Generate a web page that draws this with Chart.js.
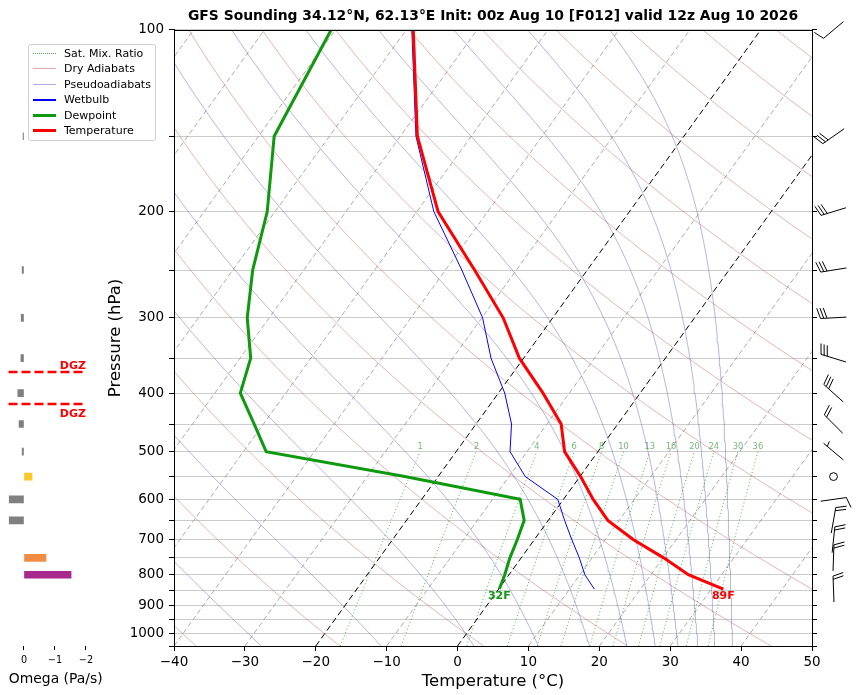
<!DOCTYPE html>
<html>
<head>
<meta charset="utf-8">
<title>GFS Sounding</title>
<script src="https://cdn.jsdelivr.net/npm/chart.js@4.4.1/dist/chart.umd.min.js"></script>
<style>
  html, body { margin:0; padding:0; background:#fff; }
  #wrap { position:relative; width:857px; height:695px; overflow:hidden; font-family:"DejaVu Sans", sans-serif; }
  canvas { position:absolute; left:0; top:0; }
  #legend { position:absolute; left:28px; top:44px; width:126px; height:95px; border:1px solid #d0d0d0; border-radius:3px; background:rgba(255,255,255,0.9); font-size:11px; color:#000; }
  .sw { position:absolute; left:4px; width:23px; }
  .lab { position:absolute; left:35px; white-space:nowrap; line-height:13px; height:13px; }
</style>
</head>
<body>
<div id="wrap">
  <canvas id="main" width="857" height="695"></canvas>
  <canvas id="omega" width="112" height="695"></canvas>
  <div id="legend"></div>
</div>
<script>
// ---------------- data ----------------
const profileP     = [100, 150, 200, 250, 300, 350, 400, 450, 500, 550, 600, 650, 700, 750, 800, 845];
const temperatureC = [-69.0, -57.6, -47.0, -35.9, -27.0, -20.6, -13.7, -8.0, -4.7, 0.1, 4.2, 8.4, 14.0, 20.1, 25.3, 31.7];
const dewpointC    = [-80.6, -77.8, -71.1, -67.2, -63.1, -58.5, -56.4, -51.3, -46.8, -24.7, -6.1, -3.4, -2.4, -1.6, -0.6, 0.1];
const wetbulbC     = [-69.2, -57.8, -47.6, -37.7, -29.9, -24.6, -19.1, -15.0, -12.4, -7.7, -0.8, 2.3, 5.3, 8.2, 10.7, 13.5];

const omegaP   = [150, 250, 300, 350, 400, 450, 500, 550, 600, 650, 750, 800];
const omegaPaS = [0.03, 0.06, 0.09, 0.10, 0.20, 0.16, 0.06, -0.26, 0.48, 0.48, -0.71, -1.52];
const dgzP     = [369, 417];

const windP      = [100, 150, 200, 250, 300, 350, 400, 450, 500, 550, 600, 650, 700, 750, 845];
const windDirDeg = [230, 235, 253, 261, 267, 287, 312, 315, 310, 0, 82, 10, 6, 2, 358];
const windKt     = [10, 30, 30, 30, 30, 30, 30, 20, 5, 0, 10, 20, 20, 20, 20];

const tempTicks     = [-40, -30, -20, -10, 0, 10, 20, 30, 40, 50];
const pressureTicks = [100, 150, 200, 250, 300, 350, 400, 450, 500, 550, 600, 650, 700, 750, 800, 850, 900, 950, 1000, 1050];
const omegaTicks    = [0, -1, -2];

const isothermsC         = [-100, -90, -80, -70, -60, -50, -40, -30, -20, -10, 0, 10, 20, 30, 40, 50];
const highlightIsoC      = [-20, 0];
const dryAdiabatsK       = [233, 253, 273, 293, 313, 333, 353, 373, 393, 413, 433, 453, 473, 493, 513, 533];
const pseudoAdiabatBaseC = [-27.7, -10.8, 2.3, 11.4, 18.6, 23.9, 27.9, 31.1, 33.9, 36.3, 38.8];
const mixingRatiosGkg    = [1, 2, 4, 6, 8, 10, 13, 16, 20, 24, 30, 36];

const TITLE = 'GFS Sounding 34.12°N, 62.13°E Init: 00z Aug 10 [F012] valid 12z Aug 10 2026';

// ---------------- skew-T helpers ----------------
const P_BOT = 1050, P_TOP = 100, SKEW = 61.45;
const KAPPA = 0.28571, EPS = 0.621957, RD = 287.04749, CP = 1004.666, LV = 2.50084e6;
function skewX(tC, p) { return tC + SKEW * Math.log10(P_BOT / p); }
function satVap(TK) { return 6.112 * Math.exp(17.67 * (TK - 273.15) / (TK - 29.65)); }
function moistSlope(p, TK) {
  const es = satVap(TK);
  const rs = EPS * es / Math.max(p - es, 1e-3);
  return (RD * TK + LV * rs) / (p * (CP + LV * LV * rs * EPS / (RD * TK * TK)));
}
function mixingDewpoint(wGkg, p) {
  const w = wGkg / 1000, e = p * w / (EPS + w), l = Math.log(e / 6.112);
  return 243.5 * l / (17.67 - l);
}
const curveP = [];
for (let p = P_BOT; p >= P_TOP; p -= 10) curveP.push(p);

function profile(vals) { return profileP.map((p, i) => ({x: skewX(vals[i], p), y: p})); }
function lineDs(data, color, width, dash) {
  return {data, borderColor: color, borderWidth: width, borderDash: dash || [], showLine: true,
          pointRadius: 0, pointHoverRadius: 0, tension: 0, fill: false};
}
function pseudoCurve(baseC) {
  let p = P_BOT, T = baseC + 273.15;
  const pts = [{x: skewX(baseC, p), y: p}];
  const h = -2; let step = 0;
  while (p > P_TOP + 1e-9) {
    const k1 = moistSlope(p, T), k2 = moistSlope(p + h / 2, T + h / 2 * k1);
    const k3 = moistSlope(p + h / 2, T + h / 2 * k2), k4 = moistSlope(p + h, T + h * k3);
    T += h / 6 * (k1 + 2 * k2 + 2 * k3 + k4); p += h; step++;
    if (step % 5 === 0) pts.push({x: skewX(T - 273.15, p), y: p});
  }
  return pts;
}

// ---------------- datasets (first = drawn on top) ----------------
const datasets = [];
datasets.push(lineDs(profile(temperatureC), '#ff0000', 3));
datasets.push(lineDs(profile(dewpointC), '#0f990f', 3));
datasets.push(lineDs(profile(wetbulbC), '#0000ff', 1));
highlightIsoC.forEach(t => datasets.push(lineDs([{x: t, y: P_BOT}, {x: skewX(t, P_TOP), y: P_TOP}], '#000000', 1, [6, 3.5])));
mixingRatiosGkg.forEach(w => datasets.push(lineDs(curveP.filter(p => p >= 500).map(p => ({x: skewX(mixingDewpoint(w, p), p), y: p})), 'rgba(0,128,0,0.65)', 1, [1, 2.5])));
pseudoAdiabatBaseC.forEach(t => datasets.push(lineDs(pseudoCurve(t), 'rgba(70,70,200,0.5)', 0.8)));
dryAdiabatsK.forEach(th => datasets.push(lineDs(curveP.map(p => ({x: skewX(th * Math.pow(p / 1000, KAPPA) - 273.15, p), y: p})), 'rgba(200,70,70,0.5)', 0.8)));
isothermsC.filter(t => !highlightIsoC.includes(t)).forEach(t => datasets.push(lineDs([{x: t, y: P_BOT}, {x: skewX(t, P_TOP), y: P_TOP}], 'rgba(150,150,150,0.8)', 1, [5, 3])));

Chart.defaults.font.family = '"DejaVu Sans", sans-serif';
Chart.defaults.color = '#000';

const minusFmt = v => (v < 0 ? '\u2212' + Math.abs(v) : String(v));

function drawBarb(ctx, cx, cy, dirDeg, kt, L) {
  ctx.beginPath();
  if (kt < 2.5) { ctx.arc(cx, cy, 0.15 * L, 0, Math.PI * 2); ctx.stroke(); return; }
  const r = dirDeg * Math.PI / 180;
  const dx = Math.sin(r), dy = -Math.cos(r);
  const px = -dy, py = dx;
  const sx = cx - dx * L / 2, sy = cy - dy * L / 2;
  const at = o => [sx + dx * o, sy + dy * o];
  ctx.moveTo(sx, sy);
  const e = at(L); ctx.lineTo(e[0], e[1]);
  let rem = Math.round(kt / 5) * 5;
  const nflag = Math.floor(rem / 50); rem -= nflag * 50;
  const nbarb = Math.floor(rem / 10); const half = rem % 10 >= 5;
  const sp = 0.125 * L, fh = 0.4 * L, fw = 0.25 * L;
  let o = L;
  for (let i = 0; i < nflag; i++) {
    const a = at(o), b = at(o - fw / 2), c = at(o - fw);
    ctx.moveTo(a[0], a[1]); ctx.lineTo(b[0] + px * fh, b[1] + py * fh); ctx.lineTo(c[0], c[1]);
    o -= fw + sp;
  }
  for (let i = 0; i < nbarb; i++) {
    const a = at(o), b = at(o + fw / 2);
    ctx.moveTo(a[0], a[1]); ctx.lineTo(b[0] + px * fh, b[1] + py * fh);
    o -= sp;
  }
  if (half) {
    if (o === L) o -= 1.5 * sp;
    const a = at(o), b = at(o + fw / 4);
    ctx.moveTo(a[0], a[1]); ctx.lineTo(b[0] + px * fh / 2, b[1] + py * fh / 2);
  }
  ctx.stroke();
}

const skewDecor = {
  id: 'skewDecor',
  afterDatasetsDraw(chart) {
    const {ctx, chartArea: a, scales: {x, y}} = chart;
    ctx.save();
    ctx.font = '8.3px "DejaVu Sans"'; ctx.fillStyle = 'rgba(0,128,0,0.55)';
    ctx.textAlign = 'center'; ctx.textBaseline = 'middle';
    mixingRatiosGkg.forEach(w => {
      ctx.fillText(String(w), x.getPixelForValue(skewX(mixingDewpoint(w, 500), 500)), y.getPixelForValue(500) - 4.5);
    });
    const n = profileP.length - 1, ps = profileP[n];
    ctx.font = 'bold 11px "DejaVu Sans"';
    ctx.fillStyle = '#ff0000';
    ctx.fillText(Math.round(temperatureC[n] * 9 / 5 + 32) + 'F', x.getPixelForValue(skewX(temperatureC[n], ps)), y.getPixelForValue(ps) + 7.5);
    ctx.fillStyle = '#0f990f';
    ctx.fillText(Math.round(dewpointC[n] * 9 / 5 + 32) + 'F', x.getPixelForValue(skewX(dewpointC[n], ps)), y.getPixelForValue(ps) + 7.5);
    ctx.strokeStyle = '#000'; ctx.lineWidth = 1;
    ctx.strokeRect(Math.round(a.left) + 0.5, Math.round(a.top) + 0.5, Math.round(a.right) - Math.round(a.left), Math.round(a.bottom) - Math.round(a.top));
    ctx.restore();
  },
  afterDraw(chart) {
    const {ctx, chartArea: a, scales: {y}} = chart;
    ctx.save();
    ctx.strokeStyle = '#000'; ctx.lineWidth = 1; ctx.lineJoin = 'miter';
    windP.forEach((p, i) => drawBarb(ctx, a.right + 21.5, y.getPixelForValue(p), windDirDeg[i], windKt[i], 26));
    ctx.restore();
  }
};

const pTickSetter = s => { s.ticks = pressureTicks.map(v => ({value: v})); };

new Chart(document.getElementById('main'), {
  type: 'scatter',
  data: {datasets},
  options: {
    responsive: false, animation: false, events: [],
    layout: {padding: {left: 0, right: 0, top: 0, bottom: 0}},
    plugins: {
      legend: {display: false}, tooltip: {enabled: false},
      title: {display: true, text: TITLE, fullSize: false, color: '#000',
              font: {size: 13.9, weight: 'bold'}, padding: {top: 7.6, bottom: 5.7}}
    },
    scales: {
      x: {
        type: 'linear', position: 'bottom', min: -40, max: 50, bounds: 'data',
        afterBuildTicks: s => { s.ticks = tempTicks.map(v => ({value: v})); },
        ticks: {font: {size: 13.5}, color: '#000', padding: 3, maxRotation: 0, autoSkip: false, callback: v => minusFmt(v)},
        grid: {drawOnChartArea: false, drawTicks: true, tickLength: 5, tickColor: '#000'},
        border: {display: true, color: '#000', width: 1},
        title: {display: true, text: 'Temperature (°C)', color: '#000', font: {size: 16.5}, padding: {top: 0, bottom: 3}},
        afterFit: s => { s.height = 49; }
      },
      y: {
        type: 'logarithmic', position: 'left', min: P_TOP, max: P_BOT, reverse: true, bounds: 'data',
        afterBuildTicks: pTickSetter,
        ticks: {font: {size: 13.5}, color: '#000', padding: 5, autoSkip: false,
                callback: v => (v % 100 === 0 && v <= 1000 ? String(v) : '')},
        grid: {color: '#cccccc', lineWidth: 1, tickColor: '#000', tickLength: 5},
        border: {display: true, color: '#000', width: 1},
        title: {display: true, text: 'Pressure (hPa)', color: '#000', font: {size: 16.5}, padding: {top: 105.6, bottom: 0}},
        afterFit: s => { s.width = 174; }
      },
      y2: {
        type: 'logarithmic', position: 'right', min: P_TOP, max: P_BOT, reverse: true, bounds: 'data',
        afterBuildTicks: pTickSetter,
        ticks: {autoSkip: false, callback: () => ''},
        grid: {drawOnChartArea: false, tickColor: '#000', tickLength: 5},
        border: {display: true, color: '#000', width: 1},
        afterFit: s => { s.width = 45; }
      }
    }
  },
  plugins: [skewDecor]
});

// ---------------- omega panel ----------------
function omegaColour(v) {
  if (v > -0.1) return '#808080';
  if (v > -0.5) return '#f8c82c';
  if (v > -1.0) return '#f28c44';
  return '#a8298e';
}
const dgzDecor = {
  id: 'dgzDecor',
  afterDatasetsDraw(chart) {
    const {ctx, scales: {x, y}} = chart;
    ctx.save();
    const x0 = x.getPixelForValue(0.5), x1 = x.getPixelForValue(-2);
    ctx.strokeStyle = '#ff0000'; ctx.lineWidth = 2.5; ctx.setLineDash([9, 4]);
    dgzP.forEach(p => { const yy = y.getPixelForValue(p); ctx.beginPath(); ctx.moveTo(x0, yy); ctx.lineTo(x1, yy); ctx.stroke(); });
    ctx.setLineDash([]);
    ctx.fillStyle = '#ff0000'; ctx.font = 'bold 11px "DejaVu Sans"'; ctx.textAlign = 'right'; ctx.textBaseline = 'alphabetic';
    const yTop = y.getPixelForValue(Math.min(...dgzP)), yBot = y.getPixelForValue(Math.max(...dgzP));
    ctx.fillText('DGZ', x1, yTop - 3);
    ctx.fillText('DGZ', x1, yBot + 13);
    ctx.restore();
  }
};
new Chart(document.getElementById('omega'), {
  type: 'bar',
  data: {datasets: [{
    data: omegaP.map((p, i) => ({x: omegaPaS[i], y: p})),
    backgroundColor: omegaPaS.map(omegaColour), borderWidth: 0, barThickness: 7
  }]},
  options: {
    indexAxis: 'y', responsive: false, animation: false, events: [],
    layout: {padding: {left: 8.5, right: 9, top: 30, bottom: 0}},
    plugins: {legend: {display: false}, tooltip: {enabled: false}},
    scales: {
      x: {
        type: 'linear', min: -2.55, max: 0.5, reverse: true, bounds: 'data',
        afterBuildTicks: s => { s.ticks = omegaTicks.map(v => ({value: v})); },
        ticks: {font: {size: 9.7}, color: '#000', padding: 4.5, autoSkip: false, maxRotation: 0, callback: v => minusFmt(v)},
        grid: {drawOnChartArea: false, drawTicks: true, tickLength: 4, tickColor: '#000'},
        border: {display: false},
        title: {display: true, text: 'Omega (Pa/s)', color: '#000', font: {size: 13.9}, padding: {top: 0, bottom: 7.6}},
        afterFit: s => { s.height = 49; }
      },
      y: {type: 'logarithmic', min: P_TOP, max: P_BOT, reverse: true, display: false}
    }
  },
  plugins: [dgzDecor]
});

// ---------------- legend ----------------
const legendItems = [
  {label: 'Sat. Mix. Ratio', w: 1, dotted: true, color: 'rgba(0,128,0,0.65)'},
  {label: 'Dry Adiabats', w: 1, color: 'rgba(200,70,70,0.45)'},
  {label: 'Pseudoadiabats', w: 1, color: 'rgba(70,70,200,0.45)'},
  {label: 'Wetbulb', w: 1.5, color: '#0000ff'},
  {label: 'Dewpoint', w: 3, color: '#0f990f'},
  {label: 'Temperature', w: 3, color: '#ff0000'}
];
const lg = document.getElementById('legend');
legendItems.forEach((it, i) => {
  const cy = 8.3 + i * 15.5;
  const sw = document.createElement('div'); sw.className = 'sw';
  sw.style.top = (cy - it.w / 2) + 'px';
  if (it.dotted) { sw.style.height = '0px'; sw.style.borderTop = '1px dotted ' + it.color; }
  else { sw.style.height = it.w + 'px'; sw.style.background = it.color; }
  lg.appendChild(sw);
  const lb = document.createElement('div'); lb.className = 'lab';
  lb.style.top = (cy - 6.5) + 'px'; lb.textContent = it.label; lg.appendChild(lb);
});
</script>
</body>
</html>
